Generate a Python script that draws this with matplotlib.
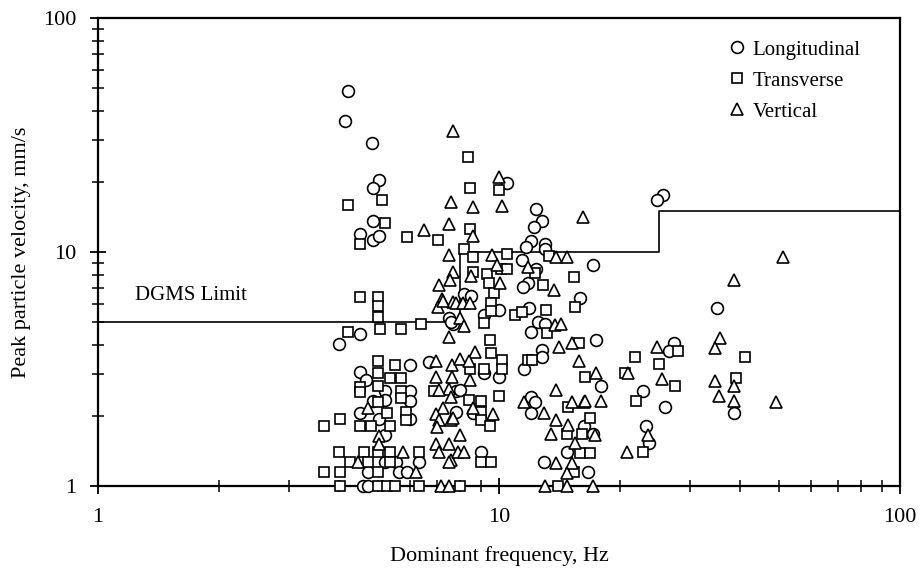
import matplotlib
matplotlib.use("Agg")
import matplotlib.pyplot as plt
from matplotlib.ticker import LogLocator, NullFormatter, FixedLocator, FixedFormatter

plt.rcParams['font.family'] = ['Liberation Serif', 'DejaVu Serif']

# ---- data (dominant frequency Hz, peak particle velocity mm/s) ----
long_f = [4.2, 4.14, 4.83, 5.03, 4.86, 4.86, 4.5, 4.86, 5.03, 7.5, 7.7, 4.5, 4.0,
          6.0, 6.7, 4.5, 4.65, 5.2, 5.2, 6.0, 6.0, 4.86, 4.5, 6.0, 5.03, 5.2,
          5.2, 5.55, 6.3, 4.7, 5.63, 5.9, 4.57, 4.7, 7.8, 7.8,
          10.5, 12.4, 12.8, 12.2, 12.0, 11.7, 13.0, 13.0, 17.2, 11.4, 12.4, 11.8, 11.45,
          15.9, 8.2, 8.5, 10.0, 7.6, 9.15, 11.9, 12.5, 13.0, 12.05, 17.5, 12.8, 12.8,
          11.55, 10.0, 9.2, 8.0, 12.0, 12.3, 12.0, 9.0, 14.8, 12.95, 16.7, 8.6,
          25.6, 24.8, 35.0, 27.3, 26.6, 18.0, 22.9, 25.9, 38.5, 23.3, 23.7, 16.3, 17.2]
long_v = [48.7, 36.3, 29.3, 20.3, 18.7, 13.6, 11.9, 11.3, 11.7, 5.2, 4.9, 4.45, 4.05,
          3.3, 3.4, 3.06, 2.85, 2.55, 2.33, 2.55, 2.31, 2.31, 2.06, 1.93, 1.93, 1.65,
          1.27, 1.27, 1.27, 1.15, 1.15, 1.15, 1.0, 1.0, 2.55, 2.08,
          19.7, 15.2, 13.6, 12.8, 11.1, 10.5, 10.8, 10.3, 8.8, 9.2, 8.5, 7.35, 7.07,
          6.35, 6.6, 6.5, 5.65, 5.0, 5.38, 5.75, 5.04, 4.92, 4.57, 4.2, 3.8, 3.57,
          3.15, 2.92, 3.03, 2.57, 2.4, 2.29, 2.06, 1.4, 1.4, 1.27, 1.15, 2.05,
          17.5, 16.6, 5.75, 4.07, 3.78, 2.68, 2.55, 2.17, 2.06, 1.8, 1.52, 1.8, 1.67]

trans_f = [5.1, 4.2, 5.2, 4.5, 5.9, 7.05, 4.5, 5.0, 5.0, 5.0, 5.05, 5.7, 6.4, 4.2,
           5.0, 5.5, 5.0, 5.35, 5.7, 4.5, 5.0, 5.7, 5.7, 4.5, 5.0, 5.25, 5.85, 5.85,
           3.67, 4.02, 4.5, 4.8, 5.35, 4.0, 4.6, 5.0, 5.35, 6.3, 4.25, 4.7, 5.35,
           3.67, 4.02, 5.0, 4.02, 5.0, 5.25, 5.5, 6.3, 6.9,
           8.35, 8.45, 10.0, 8.45, 8.2, 10.5, 13.3, 8.6, 10.1, 10.5, 9.35, 8.6, 12.3,
           15.4, 9.45, 9.7, 12.9, 9.55, 9.55, 9.2, 10.95, 11.4, 13.1, 15.5, 13.2, 15.8,
           9.5, 11.8, 12.1, 9.55, 10.2, 10.2, 9.2, 8.45, 8.4, 9.0, 10.0, 9.0, 9.0, 9.5,
           9.0, 9.55, 8.0, 14.9, 16.9, 14.8, 16.1, 15.9, 16.9, 15.4, 14.0,
           28.0, 21.8, 41.0, 25.0, 20.6, 16.4, 27.5, 38.9, 21.9, 22.8]
trans_v = [16.7, 15.9, 13.3, 10.8, 11.6, 11.2, 6.45, 6.45, 5.85, 5.3, 4.7, 4.7, 4.9, 4.55,
           3.43, 3.3, 3.03, 2.9, 2.9, 2.66, 2.68, 2.55, 2.37, 2.53, 2.29, 2.06, 2.08, 1.91,
           1.8, 1.93, 1.8, 1.8, 1.8, 1.4, 1.4, 1.4, 1.4, 1.4, 1.27, 1.27, 1.27,
           1.15, 1.15, 1.15, 1.0, 1.0, 1.0, 1.0, 1.0, 2.55,
           25.4, 18.7, 18.4, 12.5, 10.3, 9.8, 9.6, 9.5, 8.5, 8.5, 8.05, 8.25, 8.15,
           7.8, 7.35, 6.65, 7.2, 6.08, 5.61, 4.95, 5.4, 5.55, 5.65, 5.8, 4.49, 4.1,
           4.2, 3.45, 3.45, 3.69, 3.45, 3.15, 3.15, 3.15, 2.33, 2.31, 2.42, 2.08, 1.91, 1.8,
           1.27, 1.27, 1.0, 2.18, 1.95, 1.67, 1.67, 1.39, 1.39, 1.15, 1.0,
           3.78, 3.55, 3.55, 3.32, 3.05, 2.91, 2.68, 2.9, 2.31, 1.4]

vert_f = [7.7, 7.6, 7.5, 6.5, 7.5, 7.7, 7.55, 7.1, 7.2, 7.05, 7.7, 7.5,
          6.95, 7.65, 4.7, 5.03, 5.03, 5.75, 6.95, 7.5, 6.2, 7.15, 7.5, 4.45,
          6.95, 7.25, 6.95, 7.1, 7.6, 7.0, 7.1, 7.6,
          10.0, 8.6, 10.2, 16.2, 8.6, 9.6, 13.9, 14.8, 9.9, 11.8, 8.5, 10.05, 13.7,
          7.25, 7.8, 8.15, 8.45, 8.0, 8.2, 13.8, 14.3, 15.2, 14.1, 15.8,
          8.7, 8.0, 8.4, 7.65, 8.45, 7.5, 7.1, 7.6, 8.6, 9.65, 7.7, 8.0, 7.9, 8.2, 7.5,
          11.55, 12.95, 13.9, 15.2, 16.3, 13.9, 14.9, 13.5, 15.5, 13.9, 15.2, 14.8,
          13.0, 14.8, 17.2,
          38.5, 35.6, 34.5, 24.8, 21.0, 17.5, 25.5, 34.5, 38.5, 16.4, 18.0, 35.3, 38.5,
          23.5, 17.4, 20.8, 51.0, 49.0]
vert_v = [33.0, 16.4, 13.2, 12.4, 9.7, 8.2, 7.6, 7.2, 6.3, 5.8, 6.1, 4.35,
          3.43, 3.3, 2.15, 1.64, 1.51, 1.4, 1.51, 1.51, 1.15, 1.0, 1.0, 1.27,
          2.93, 2.15, 2.04, 1.91, 1.91, 1.78, 1.4, 1.29,
          21.0, 15.5, 15.7, 14.1, 11.7, 9.7, 9.55, 9.55, 8.8, 8.65, 7.9, 7.35, 6.9,
          6.2, 6.05, 6.05, 6.08, 5.2, 4.83, 4.88, 4.92, 4.07, 3.92, 3.43,
          3.75, 3.5, 3.43, 2.92, 2.84, 2.59, 2.57, 2.39, 2.15, 2.04, 1.95, 1.65, 1.4, 1.4, 1.27,
          2.29, 2.06, 2.57, 2.29, 2.29, 1.91, 1.82, 1.67, 1.52, 1.26, 1.26, 1.14,
          1.0, 1.0, 1.0,
          7.6, 4.3, 3.9, 3.92, 3.05, 3.05, 2.88, 2.82, 2.67, 2.31, 2.31, 2.42, 2.31,
          1.65, 1.65, 1.4, 9.55, 2.29]

limit_f = [1, 8, 25, 100]
limit_v = [5, 10, 15, 15]

ticks = [1, 10, 100]
tick_labels = ['1', '10', '100']

# ---- figure ----
fig = plt.figure(figsize=(9.22, 5.72), dpi=100)
ax = fig.add_axes([98/922, 86/572, 802/922, 468/572])
ax.set_xscale('log')
ax.set_yscale('log')
ax.set_xlim(1, 100)
ax.set_ylim(1, 100)

ax.step(limit_f, limit_v, where='post', color='black', lw=1.2, zorder=2)

mk = dict(linestyle='none', markersize=8.5, markerfacecolor='white',
          markeredgecolor='black', markeredgewidth=1.2, clip_on=False, zorder=3)
ax.plot(long_f, long_v, marker='o', label='Longitudinal', **mk)
ax.plot(trans_f, trans_v, marker='s', label='Transverse', **dict(mk, markersize=7.8))
ax.plot(vert_f, vert_v, marker='^', label='Vertical', **dict(mk, markersize=8.5))

ax.text(1.236, 6.49, 'DGMS Limit', fontsize=15, ha='left', va='center')

ax.xaxis.set_major_locator(FixedLocator(ticks))
ax.xaxis.set_major_formatter(FixedFormatter(tick_labels))
ax.yaxis.set_major_locator(FixedLocator(ticks))
ax.yaxis.set_major_formatter(FixedFormatter(tick_labels))
ax.xaxis.set_minor_locator(LogLocator(base=10, subs=range(2, 10)))
ax.yaxis.set_minor_locator(LogLocator(base=10, subs=range(2, 10)))
ax.xaxis.set_minor_formatter(NullFormatter())
ax.yaxis.set_minor_formatter(NullFormatter())
ax.tick_params(which='major', direction='inout', length=11, width=1.3,
               labelsize=16, pad=10, colors='black')
ax.tick_params(which='minor', direction='inout', length=9, width=1.1)
ax.tick_params(axis='x', which='major', pad=10)

for s in ax.spines.values():
    s.set_linewidth(1.6)
    s.set_color('black')

ax.set_xlabel('Dominant frequency, Hz', fontsize=16)
ax.set_ylabel('Peak particle velocity, mm/s', fontsize=16)
ax.xaxis.set_label_coords(0.5, -0.128)
ax.yaxis.set_label_coords(-0.083, 0.5)

ax.legend(loc='upper left', bbox_to_anchor=(0.784, 0.953), frameon=False,
          fontsize=15, numpoints=1, handlelength=1.0, handletextpad=0.25,
          borderpad=0, borderaxespad=0, labelspacing=0.55)

fig.savefig('out.png', dpi=100)
